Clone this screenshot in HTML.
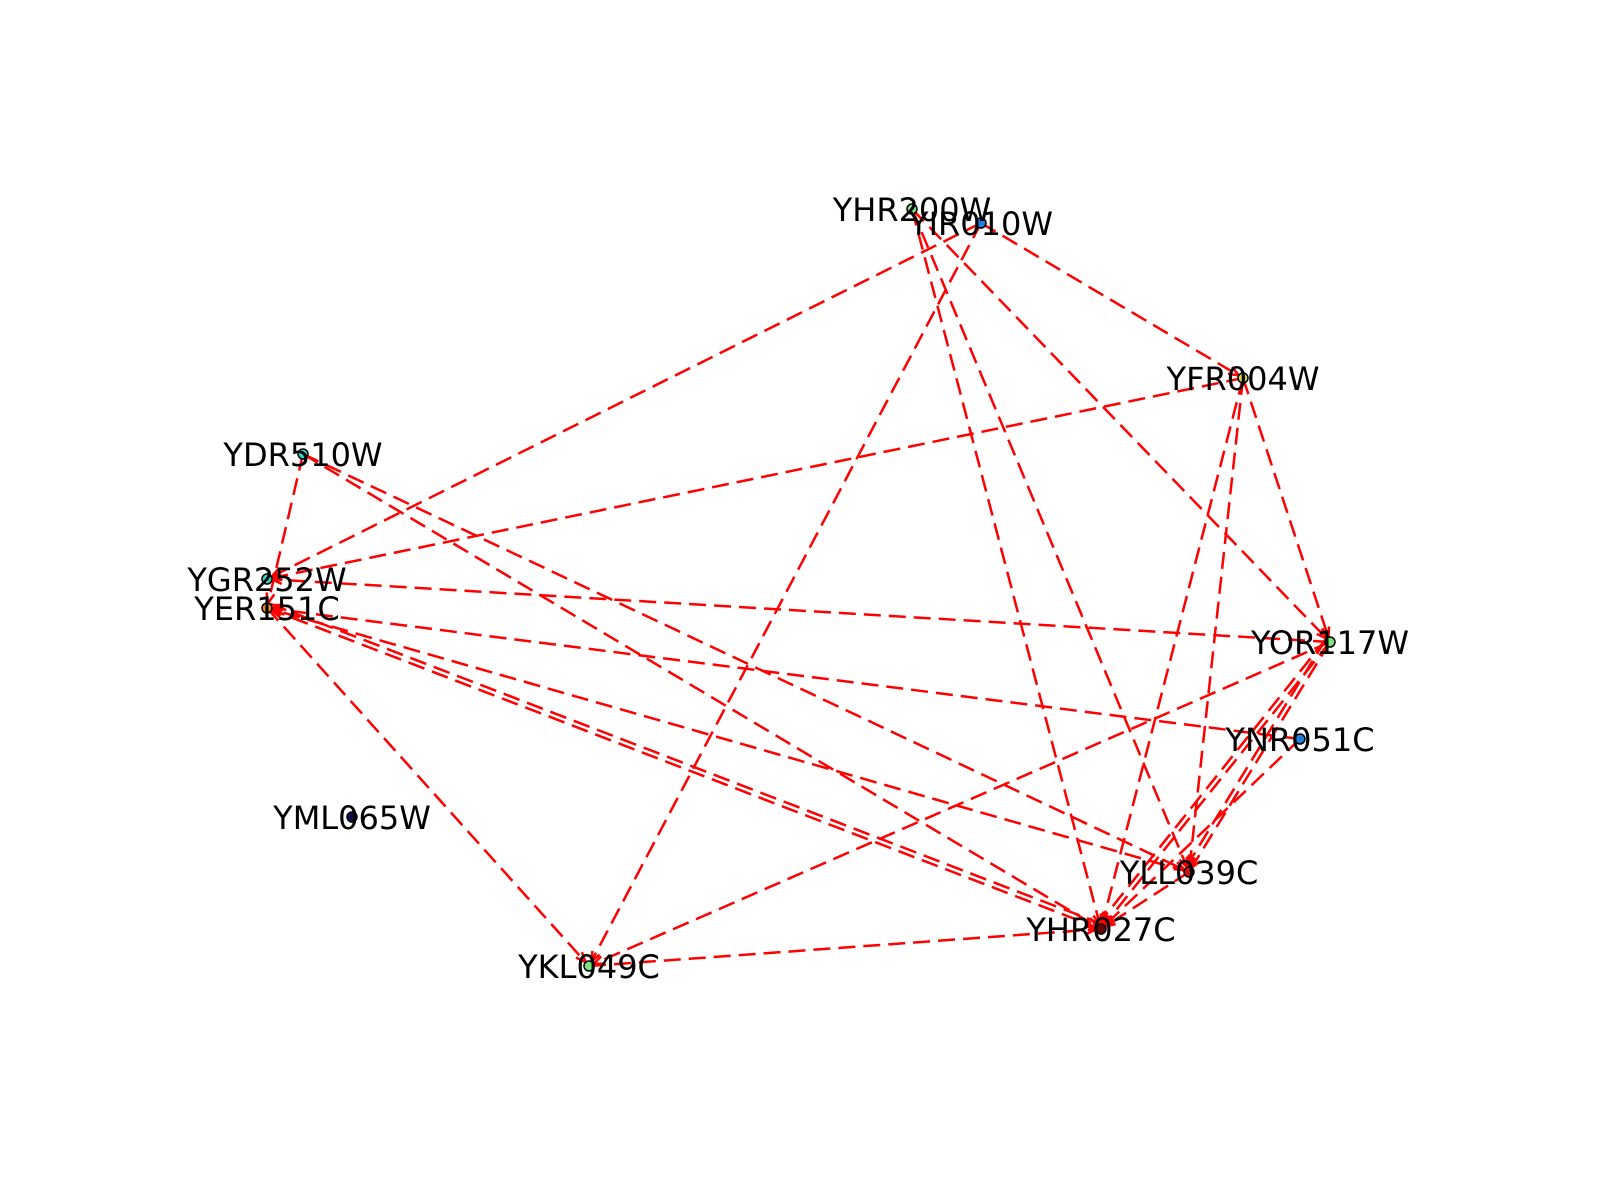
<!DOCTYPE html>
<html><head><meta charset="utf-8"><style>
body{margin:0;background:#fff}
svg{display:block}
text{font-family:"DejaVu Sans","Liberation Sans",sans-serif;font-size:32px;fill:#000}
</style></head><body>
<svg id="g" width="1600" height="1200"></svg>
<script>
const nodeNames=["YHR200W","YIR010W","YFR004W","YDR510W","YGR252W","YER151C","YOR117W","YNR051C","YML065W","YLL039C","YHR027C","YKL049C"];
const nodeX=[912,981,1243,303,267,267,1330,1300,352,1189,1101,589];
const nodeY=[209,223,378,454,579,608,642,739,817,872,929,966];
const nodeColors=["#7be37b","#1f7fe0","#c8d84a","#2ed8c8","#2ed8c8","#f08a1a","#7be37b","#1f7fe0","#101050","#d01010","#700000","#7be37b"];
const edgeFrom=["YIR010W","YIR010W","YIR010W","YHR200W","YHR200W","YHR200W","YFR004W","YFR004W","YFR004W","YFR004W","YDR510W","YDR510W","YDR510W","YOR117W","YNR051C","YHR027C","YHR027C","YER151C","YOR117W","YOR117W","YOR117W","YOR117W","YOR117W","YNR051C","YKL049C","YLL039C","YLL039C"];
const edgeTo=["YGR252W","YKL049C","YFR004W","YHR027C","YLL039C","YOR117W","YGR252W","YHR027C","YLL039C","YOR117W","YER151C","YHR027C","YLL039C","YGR252W","YER151C","YER151C","YER151C","YKL049C","YKL049C","YLL039C","YLL039C","YHR027C","YHR027C","YHR027C","YHR027C","YHR027C","YER151C"];
const svg=document.getElementById('g');
const NS="http://www.w3.org/2000/svg";
const idx=n=>nodeNames.indexOf(n);
const seen={};
for(let i=0;i<edgeFrom.length;i++){
  const a=idx(edgeFrom[i]),b=idx(edgeTo[i]);
  const key=[a,b].sort().join('-');
  const k=seen[key]||0;seen[key]=k+1;
  let x1=nodeX[a],y1=nodeY[a],x2=nodeX[b],y2=nodeY[b];
  const dx=x2-x1,dy=y2-y1,L=Math.hypot(dx,dy);
  const off=k*5;const nx=-dy/L*off,ny=dx/L*off;
  const l=document.createElementNS(NS,'line');
  l.setAttribute('x1',x1+nx);l.setAttribute('y1',y1+ny);
  l.setAttribute('x2',x2+nx);l.setAttribute('y2',y2+ny);
  l.setAttribute('stroke','#ff0000');l.setAttribute('stroke-width','2.5');
  l.setAttribute('stroke-dasharray','17,8');
  
  
  svg.appendChild(l);
  const ux=dx/L,uy=dy/L,tx=x2+nx-ux*5,ty=y2+ny-uy*5;
  const p=document.createElementNS(NS,'path');
  p.setAttribute('d',`M${tx-ux*10+uy*4},${ty-uy*10-ux*4} L${tx},${ty} L${tx-ux*10-uy*4},${ty-uy*10+ux*4}`);
  p.setAttribute('stroke','#ff0000');p.setAttribute('stroke-width','2.5');p.setAttribute('fill','none');
  
  
  svg.appendChild(p);
}
for(let i=0;i<nodeNames.length;i++){
  const c=document.createElementNS(NS,'circle');
  c.setAttribute('cx',nodeX[i]);c.setAttribute('cy',nodeY[i]);c.setAttribute('r','5');
  c.setAttribute('fill',nodeColors[i]);c.setAttribute('stroke','#000');c.setAttribute('stroke-width','1.5');
  
  
  svg.appendChild(c);
}
for(let i=0;i<nodeNames.length;i++){
  const t=document.createElementNS(NS,'text');
  t.setAttribute('x',nodeX[i]);t.setAttribute('y',nodeY[i]+12);
  t.setAttribute('text-anchor','middle');
  t.textContent=nodeNames[i];
  
  
  svg.appendChild(t);
}
</script>
</body></html>
